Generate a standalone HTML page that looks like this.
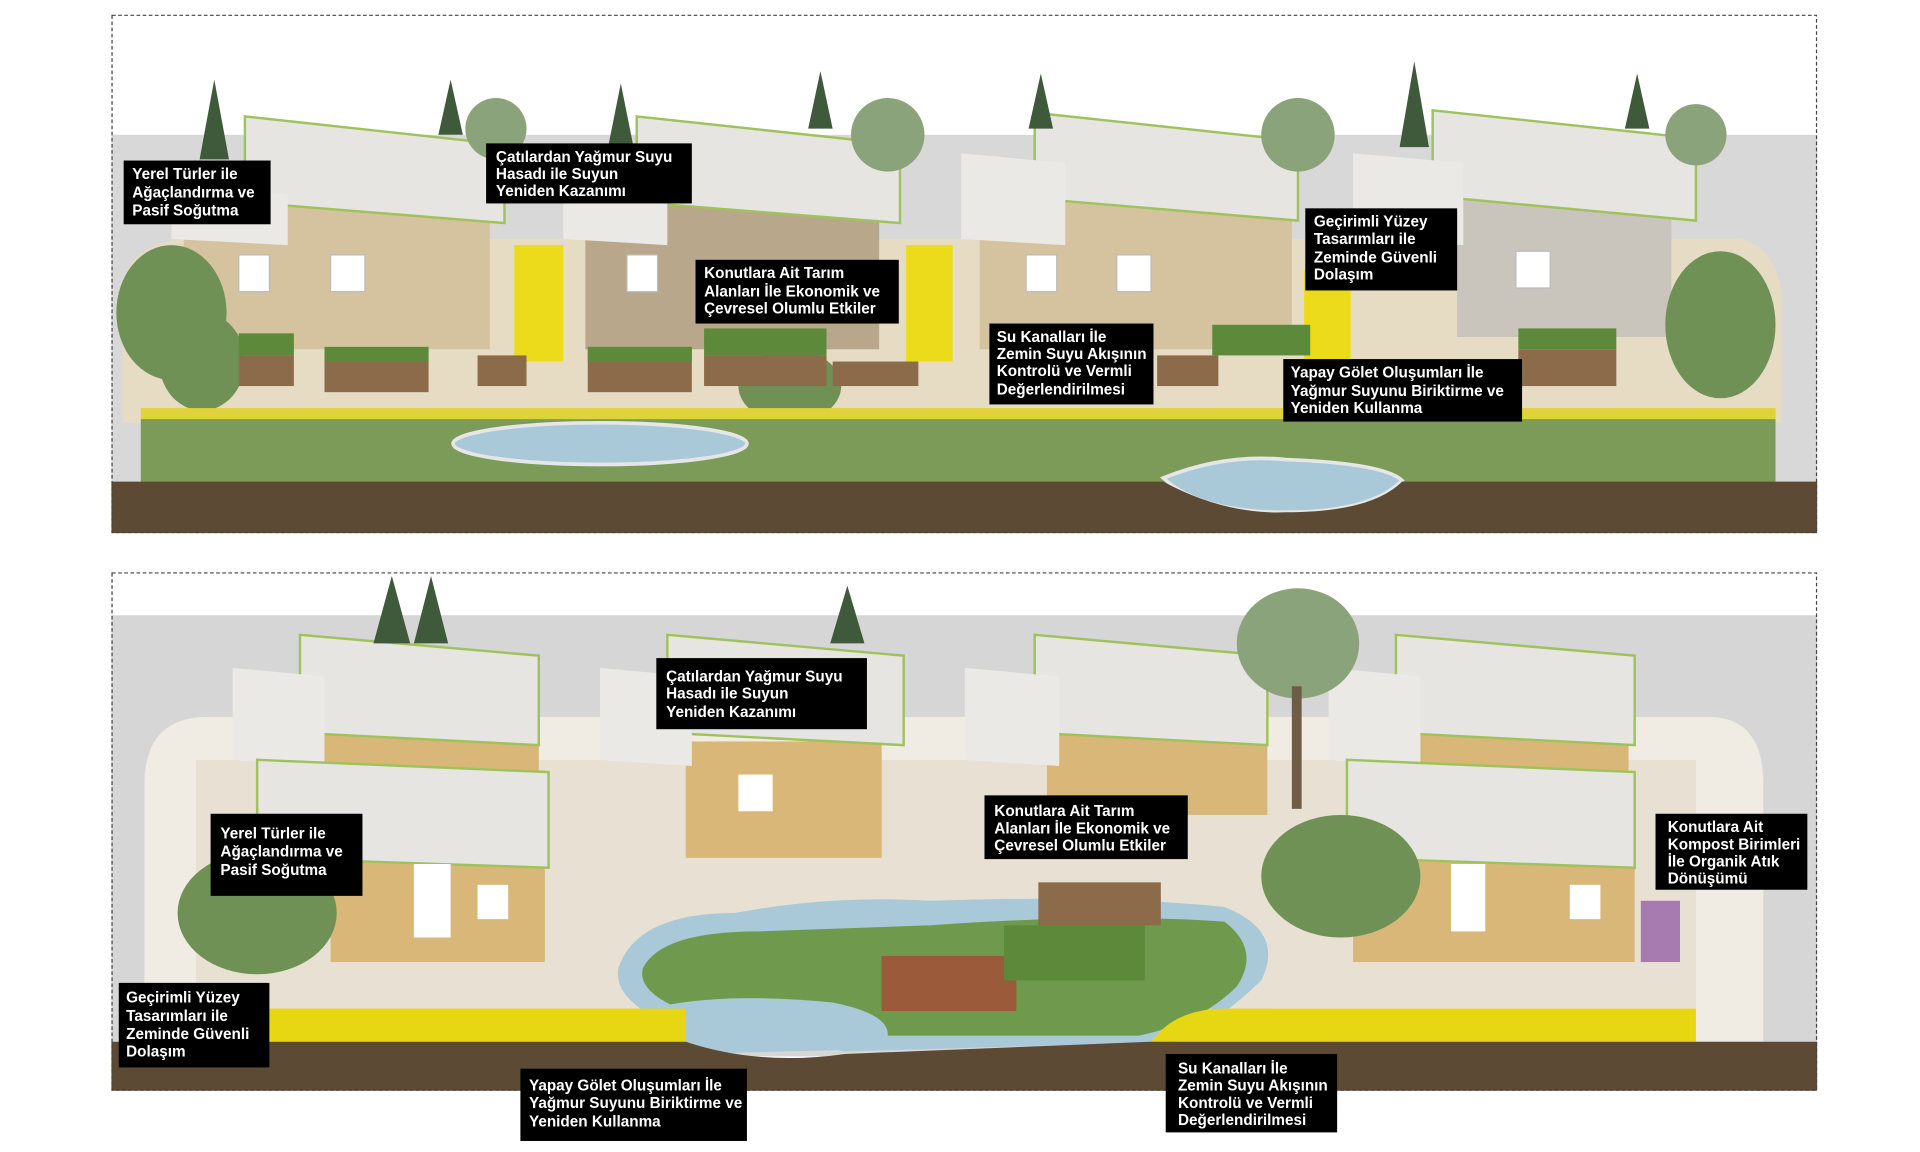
<!DOCTYPE html>
<html><head><meta charset="utf-8"><style>
html,body{margin:0;padding:0;background:#fff;}
svg{display:block}
text{font-family:"Liberation Sans",sans-serif;font-weight:bold;font-size:12.5px;fill:#fff}
</style></head><body>
<svg width="1920" height="1152" viewBox="0 0 1568 940" preserveAspectRatio="none" xmlns="http://www.w3.org/2000/svg">
<rect width="1568" height="940" fill="#fff"/>
<!-- ===== TOP PANEL ===== -->
<rect x="91" y="110" width="1393" height="290" fill="#d8d8d8"/>
<path d="M100 230 Q110 195 160 195 L1420 195 Q1450 200 1455 240 L1455 345 L100 345 Z" fill="#e6dcc4"/>
<!-- houses top -->
<g>
<rect x="150" y="165" width="250" height="120" fill="#d5c3a0"/>
<polygon points="200,95 412,118 412,182 200,165" fill="#e7e5e2" stroke="#9fc25c" stroke-width="2"/>
<polygon points="140,150 235,158 235,200 140,195" fill="#ebe9e6"/>
<rect x="195" y="208" width="25" height="30" fill="#fff" stroke="#bbb"/><rect x="270" y="208" width="28" height="30" fill="#fff" stroke="#bbb"/>
<rect x="420" y="200" width="40" height="95" fill="#ecdb1a"/>
<rect x="478" y="165" width="240" height="120" fill="#b9a78c"/>
<polygon points="520,95 735,118 735,182 520,165" fill="#e7e5e2" stroke="#9fc25c" stroke-width="2"/>
<polygon points="460,150 545,158 545,200 460,195" fill="#ebe9e6"/>
<rect x="512" y="208" width="25" height="30" fill="#fff" stroke="#bbb"/>
<rect x="740" y="200" width="38" height="95" fill="#ecdb1a"/>
<rect x="800" y="165" width="255" height="120" fill="#d5c3a0"/>
<polygon points="845,92 1060,115 1060,180 845,162" fill="#e7e5e2" stroke="#9fc25c" stroke-width="2"/>
<polygon points="785,125 870,133 870,200 785,195" fill="#ebe9e6"/>
<rect x="838" y="208" width="25" height="30" fill="#fff" stroke="#bbb"/><rect x="912" y="208" width="28" height="30" fill="#fff" stroke="#bbb"/>
<rect x="1065" y="220" width="38" height="75" fill="#ecdb1a"/>
<rect x="1190" y="160" width="175" height="115" fill="#c9c5bd"/>
<polygon points="1170,90 1385,113 1385,180 1170,160" fill="#e7e5e2" stroke="#9fc25c" stroke-width="2"/>
<polygon points="1105,125 1195,133 1195,200 1105,195" fill="#ebe9e6"/>
<rect x="1238" y="205" width="28" height="30" fill="#fff" stroke="#bbb"/>
</g>
<!-- trees -->
<g fill="#3f5a3a">
<polygon points="175,65 163,130 187,130"/><polygon points="368,65 358,110 378,110"/><polygon points="507,68 497,118 517,118"/>
<polygon points="670,58 660,105 680,105"/><polygon points="850,60 840,105 860,105"/><polygon points="1155,50 1143,120 1167,120"/><polygon points="1337,60 1327,105 1347,105"/>
</g>
<g fill="#8ba37a"><circle cx="405" cy="105" r="25"/><circle cx="725" cy="110" r="30"/><circle cx="1060" cy="110" r="30"/><circle cx="1385" cy="110" r="25"/></g>
<g fill="#6f9156"><ellipse cx="140" cy="255" rx="45" ry="55"/><ellipse cx="165" cy="295" rx="35" ry="40"/><ellipse cx="1405" cy="265" rx="45" ry="60"/><ellipse cx="645" cy="315" rx="42" ry="30"/></g>
<!-- planters -->
<g fill="#8b6b4a"><rect x="195" y="290" width="45" height="25"/><rect x="265" y="285" width="85" height="35"/><rect x="390" y="290" width="40" height="25"/><rect x="480" y="285" width="85" height="35"/><rect x="575" y="290" width="100" height="25"/><rect x="680" y="295" width="70" height="20"/><rect x="945" y="290" width="50" height="25"/><rect x="1240" y="285" width="80" height="30"/></g>
<g fill="#5d8a3a"><rect x="195" y="272" width="45" height="18"/><rect x="265" y="283" width="85" height="12"/><rect x="480" y="283" width="85" height="12"/><rect x="575" y="268" width="100" height="22"/><rect x="990" y="265" width="80" height="25"/><rect x="1240" y="268" width="80" height="17"/></g>
<rect x="115" y="333" width="1335" height="10" fill="#dfd23a"/>
<rect x="115" y="342" width="1335" height="53" fill="#7d9b58"/>
<ellipse cx="490" cy="362" rx="120" ry="17" fill="#a9c9d8" stroke="#e6e6e6" stroke-width="3"/>
<path d="M950 390 Q1000 370 1050 375 Q1130 378 1145 392 Q1120 418 1050 418 Q980 418 950 390Z" fill="#a9c9d8" stroke="#e6e6e6" stroke-width="3"/>
<path d="M91 393 L950 393 Q1000 420 1050 418 Q1120 418 1145 393 L1484 393 L1484 435 L91 435Z" fill="#5c4a34"/>
<rect x="91.5" y="12.5" width="1392" height="422" fill="none" stroke="#444" stroke-dasharray="3,2"/>
<!-- ===== BOTTOM PANEL ===== -->
<rect x="91" y="502" width="1393" height="360" fill="#d6d6d6"/>
<path d="M118 640 Q118 585 170 585 L1395 585 Q1440 585 1440 640 L1440 850 L118 850Z" fill="#f0ece4"/>
<path d="M160 620 L1385 620 L1385 825 L160 825Z" fill="#e8e1d3"/>
<g>
<rect x="255" y="595" width="185" height="70" fill="#d9b779"/>
<polygon points="245,518 440,535 440,608 245,598" fill="#e7e5e2" stroke="#9fc25c" stroke-width="2"/>
<polygon points="190,545 265,552 265,625 190,620" fill="#ebe9e6"/>
<rect x="270" y="700" width="175" height="85" fill="#d9b779"/>
<polygon points="210,620 448,630 448,708 210,700" fill="#e7e5e2" stroke="#9fc25c" stroke-width="2"/>
<rect x="338" y="705" width="30" height="60" fill="#fff"/><rect x="390" y="722" width="25" height="28" fill="#fff"/>
<rect x="560" y="605" width="160" height="95" fill="#d9b779"/>
<polygon points="545,518 738,535 738,608 545,598" fill="#e7e5e2" stroke="#9fc25c" stroke-width="2"/>
<polygon points="490,545 565,552 565,625 490,620" fill="#ebe9e6"/>
<rect x="603" y="632" width="28" height="30" fill="#fff"/>
<rect x="855" y="595" width="180" height="70" fill="#d9b779"/>
<polygon points="845,518 1035,535 1035,608 845,598" fill="#e7e5e2" stroke="#9fc25c" stroke-width="2"/>
<polygon points="788,545 865,552 865,625 788,620" fill="#ebe9e6"/>
<rect x="1150" y="595" width="180" height="70" fill="#d9b779"/>
<polygon points="1140,518 1335,535 1335,608 1140,598" fill="#e7e5e2" stroke="#9fc25c" stroke-width="2"/>
<polygon points="1085,545 1160,552 1160,625 1085,620" fill="#ebe9e6"/>
<rect x="1105" y="700" width="230" height="85" fill="#d9b779"/>
<polygon points="1100,620 1335,630 1335,708 1100,700" fill="#e7e5e2" stroke="#9fc25c" stroke-width="2"/>
<rect x="1185" y="705" width="28" height="55" fill="#fff"/><rect x="1282" y="722" width="25" height="28" fill="#fff"/>
<rect x="1340" y="735" width="32" height="50" fill="#a87bb0"/>
</g>
<g fill="#3f5a3a"><polygon points="320,470 305,525 335,525"/><polygon points="352,470 338,525 366,525"/><polygon points="692,478 678,525 706,525"/></g>
<g fill="#8ba37a"><ellipse cx="1060" cy="525" rx="50" ry="45"/><rect x="1055" y="560" width="8" height="100" fill="#6e5c44"/></g>
<g fill="#6f9156"><ellipse cx="210" cy="745" rx="65" ry="50"/><ellipse cx="1095" cy="715" rx="65" ry="50"/></g>
<path d="M505 790 Q520 745 600 745 Q680 730 760 735 Q900 730 1000 740 Q1050 760 1030 800 Q1000 830 960 850 L690 858 Q620 845 560 840 Q500 820 505 790Z" fill="#a9c9d8"/>
<path d="M525 790 Q540 760 620 760 L760 755 Q900 745 1000 752 Q1030 775 1010 805 Q980 835 930 845 L700 845 Q620 835 560 825 Q520 810 525 790Z" fill="#6f9a4d"/>
<path d="M545 820 Q600 810 680 818 Q740 830 720 856 L560 860Z" fill="#a9c9d8"/>
<rect x="720" y="780" width="110" height="45" fill="#9b5a3a"/><rect x="820" y="755" width="115" height="45" fill="#5d8a3a"/><rect x="848" y="720" width="100" height="35" fill="#8b6b4a"/>
<rect x="220" y="823" width="340" height="27" fill="#e7d713"/>
<path d="M940 850 Q960 823 1000 823 L1385 823 L1385 850Z" fill="#e7d713"/>
<path d="M91 850 L560 850 Q620 870 690 860 L940 850 L1484 850 L1484 890 L91 890Z" fill="#5c4a34"/>
<rect x="91.5" y="467.5" width="1392" height="422" fill="none" stroke="#444" stroke-dasharray="3,2"/>
<!-- ===== LABELS ===== -->
<g>
<rect x="101" y="131" width="120" height="52" fill="#000"/><text x="108" y="146">Yerel Türler ile</text><text x="108" y="161">Ağaçlandırma ve</text><text x="108" y="176">Pasif Soğutma</text>
<rect x="397" y="117" width="168" height="49" fill="#000"/><text x="405" y="132">Çatılardan Yağmur Suyu</text><text x="405" y="146">Hasadı ile Suyun</text><text x="405" y="160">Yeniden Kazanımı</text>
<rect x="568" y="212" width="166" height="52" fill="#000"/><text x="575" y="227">Konutlara Ait Tarım</text><text x="575" y="242">Alanları İle Ekonomik ve</text><text x="575" y="256">Çevresel Olumlu Etkiler</text>
<rect x="808" y="264" width="134" height="66" fill="#000"/><text x="814" y="279">Su Kanalları İle</text><text x="814" y="293">Zemin Suyu Akışının</text><text x="814" y="307">Kontrolü ve Vermli</text><text x="814" y="322">Değerlendirilmesi</text>
<rect x="1066" y="170" width="124" height="67" fill="#000"/><text x="1073" y="185">Geçirimli Yüzey</text><text x="1073" y="199">Tasarımları ile</text><text x="1073" y="214">Zeminde Güvenli</text><text x="1073" y="228">Dolaşım</text>
<rect x="1048" y="293" width="195" height="51" fill="#000"/><text x="1054" y="308">Yapay Gölet Oluşumları İle</text><text x="1054" y="323">Yağmur Suyunu Biriktirme ve</text><text x="1054" y="337">Yeniden Kullanma</text>
<rect x="536" y="537" width="172" height="58" fill="#000"/><text x="544" y="556">Çatılardan Yağmur Suyu</text><text x="544" y="570">Hasadı ile Suyun</text><text x="544" y="585">Yeniden Kazanımı</text>
<rect x="172" y="664" width="124" height="67" fill="#000"/><text x="180" y="684">Yerel Türler ile</text><text x="180" y="699">Ağaçlandırma ve</text><text x="180" y="714">Pasif Soğutma</text>
<rect x="804" y="649" width="166" height="52" fill="#000"/><text x="812" y="666">Konutlara Ait Tarım</text><text x="812" y="680">Alanları İle Ekonomik ve</text><text x="812" y="694">Çevresel Olumlu Etkiler</text>
<rect x="1352" y="664" width="124" height="62" fill="#000"/><text x="1362" y="679">Konutlara Ait</text><text x="1362" y="693">Kompost Birimleri</text><text x="1362" y="707">İle Organik Atık</text><text x="1362" y="721">Dönüşümü</text>
<rect x="97" y="802" width="123" height="69" fill="#000"/><text x="103" y="818">Geçirimli Yüzey</text><text x="103" y="833">Tasarımları ile</text><text x="103" y="848">Zeminde Güvenli</text><text x="103" y="862">Dolaşım</text>
<rect x="425" y="872" width="185" height="59" fill="#000"/><text x="432" y="890">Yapay Gölet Oluşumları İle</text><text x="432" y="904">Yağmur Suyunu Biriktirme ve</text><text x="432" y="919">Yeniden Kullanma</text>
<rect x="952" y="860" width="140" height="64" fill="#000"/><text x="962" y="876">Su Kanalları İle</text><text x="962" y="890">Zemin Suyu Akışının</text><text x="962" y="904">Kontrolü ve Vermli</text><text x="962" y="918">Değerlendirilmesi</text>
</g>
</svg>
</body></html>
